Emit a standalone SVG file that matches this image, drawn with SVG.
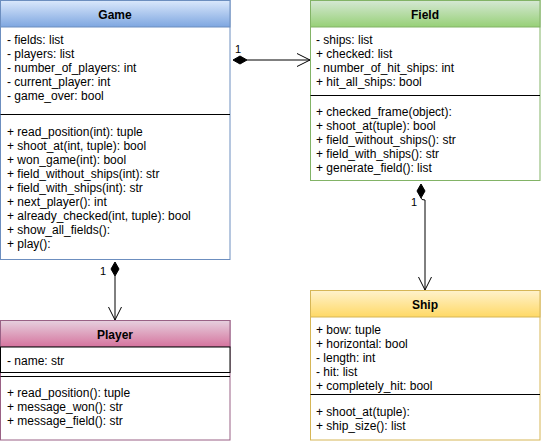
<svg xmlns="http://www.w3.org/2000/svg" width="541" height="445" viewBox="0 0 541 445">
<defs>
<linearGradient id="gBlue" x1="0" y1="0" x2="0" y2="1"><stop offset="0" stop-color="#dae8fc"/><stop offset="1" stop-color="#7ea6e0"/></linearGradient>
<linearGradient id="gGreen" x1="0" y1="0" x2="0" y2="1"><stop offset="0" stop-color="#d5e8d4"/><stop offset="1" stop-color="#97d077"/></linearGradient>
<linearGradient id="gPink" x1="0" y1="0" x2="0" y2="1"><stop offset="0" stop-color="#e6d0de"/><stop offset="1" stop-color="#d5739d"/></linearGradient>
<linearGradient id="gYellow" x1="0" y1="0" x2="0" y2="1"><stop offset="0" stop-color="#fff2cc"/><stop offset="1" stop-color="#ffd966"/></linearGradient>
<marker id="open" viewBox="0 0 14 14" refX="13" refY="7" markerWidth="14" markerHeight="14" markerUnits="userSpaceOnUse" orient="auto"><path d="M0,0.5 L13,7 L0,13.5" fill="none" stroke="#000" stroke-width="1"/></marker>
</defs>
<style>
text{font-family:"Liberation Sans",Arial,sans-serif;font-size:12px;fill:#000}
.t{font-weight:bold;font-size:12px;text-anchor:middle}
.n{font-size:11px}
.sep{stroke:#000;stroke-width:1}
.conn{fill:none;stroke:#000;stroke-width:1}
.dia{fill:#000;stroke:#000}
</style>
<g id="connectors">
<path class="conn" d="M247,60 L310,60" marker-end="url(#open)"/>
<path class="dia" d="M233,60 L240,56 L247,60 L240,64 Z"/>
<text class="n" x="235" y="53">1</text>
<path class="conn" d="M115,276 L115,320" marker-end="url(#open)"/>
<path class="dia" d="M115,262 L119,269 L115,276 L111,269 Z"/>
<text class="n" x="100" y="275">1</text>
<path class="conn" d="M421,198 Q421,200 425,200 L425,290" marker-end="url(#open)"/>
<path class="dia" d="M421,184 L425,191 L421,198 L417,191 Z"/>
<text class="n" x="411" y="206">1</text>
</g>
<g id="game">
<rect x="0.5" y="0.5" width="229.5" height="259" fill="#fff" stroke="#6c8ebf"/>
<rect x="0.5" y="0.5" width="229.5" height="26.5" fill="url(#gBlue)" stroke="#6c8ebf"/>
<text class="t" x="115" y="19">Game</text>
<text x="7" y="44">- fields: list</text>
<text x="7" y="58">- players: list</text>
<text x="7" y="72">- number_of_players: int</text>
<text x="7" y="86">- current_player: int</text>
<text x="7" y="100">- game_over: bool</text>
<line class="sep" x1="0.5" y1="114.5" x2="230" y2="114.5"/>
<text x="7" y="136">+ read_position(int): tuple</text>
<text x="7" y="150">+ shoot_at(int, tuple): bool</text>
<text x="7" y="164">+ won_game(int): bool</text>
<text x="7" y="178">+ field_without_ships(int): str</text>
<text x="7" y="192">+ field_with_ships(int): str</text>
<text x="7" y="206">+ next_player(): int</text>
<text x="7" y="220">+ already_checked(int, tuple): bool</text>
<text x="7" y="234">+ show_all_fields():</text>
<text x="7" y="248">+ play():</text>
</g>
<g id="field">
<rect x="310.5" y="0.5" width="229.5" height="180" fill="#fff" stroke="#82b366"/>
<rect x="310.5" y="0.5" width="229.5" height="26.5" fill="url(#gGreen)" stroke="#82b366"/>
<text class="t" x="425" y="19">Field</text>
<text x="316" y="44">- ships: list</text>
<text x="316" y="58">+ checked: list</text>
<text x="316" y="72">- number_of_hit_ships: int</text>
<text x="316" y="86">+ hit_all_ships: bool</text>
<line class="sep" x1="310.5" y1="95.5" x2="540" y2="95.5"/>
<text x="316" y="116">+ checked_frame(object):</text>
<text x="316" y="130">+ shoot_at(tuple): bool</text>
<text x="316" y="144">+ field_without_ships(): str</text>
<text x="316" y="158">+ field_with_ships(): str</text>
<text x="316" y="172">+ generate_field(): list</text>
</g>
<g id="player">
<rect x="0.5" y="320.5" width="229.5" height="119.5" fill="#fff" stroke="#996185"/>
<rect x="0.5" y="320.5" width="229.5" height="26.5" fill="url(#gPink)" stroke="#996185"/>
<text class="t" x="115" y="339">Player</text>
<rect x="0.5" y="347" width="229.5" height="25.5" fill="#fff" stroke="#000"/>
<text x="7" y="365">- name: str</text>
<line class="sep" x1="0.5" y1="376.5" x2="230" y2="376.5"/>
<text x="7" y="397">+ read_position(): tuple</text>
<text x="7" y="411">+ message_won(): str</text>
<text x="7" y="425">+ message_field(): str</text>
</g>
<g id="ship">
<rect x="310.5" y="290.5" width="229.5" height="149.5" fill="#fff" stroke="#d6b656"/>
<rect x="310.5" y="290.5" width="229.5" height="26.5" fill="url(#gYellow)" stroke="#d6b656"/>
<text class="t" x="425" y="309">Ship</text>
<text x="316" y="334">+ bow: tuple</text>
<text x="316" y="348">+ horizontal: bool</text>
<text x="316" y="362">- length: int</text>
<text x="316" y="376">- hit: list</text>
<text x="316" y="390">+ completely_hit: bool</text>
<line class="sep" x1="310.5" y1="394.5" x2="540" y2="394.5"/>
<text x="316" y="416">+ shoot_at(tuple):</text>
<text x="316" y="430">+ ship_size(): list</text>
</g>
</svg>
